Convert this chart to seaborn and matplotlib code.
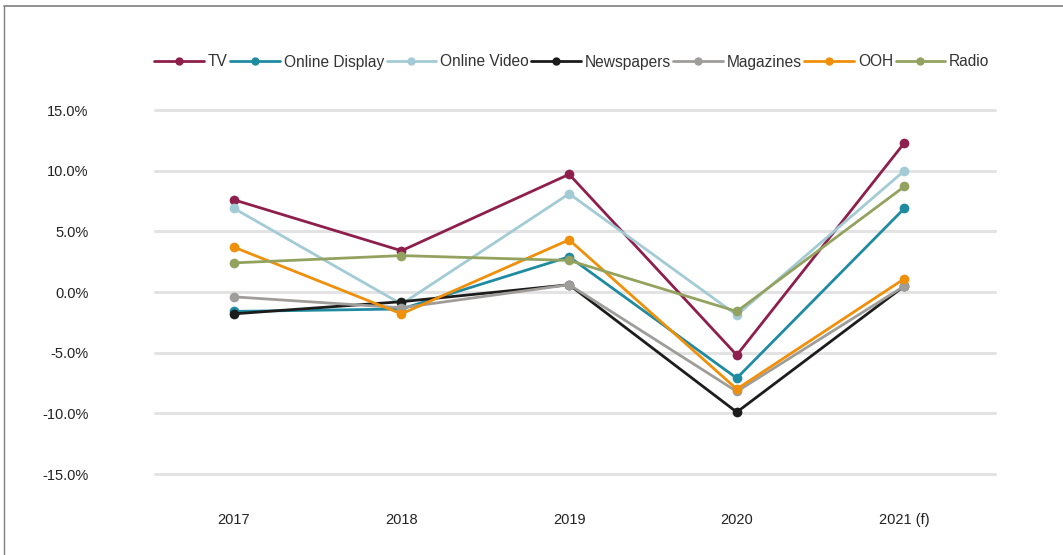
import matplotlib
matplotlib.use("Agg")
import matplotlib.pyplot as plt
import seaborn as sns
import pandas as pd
from matplotlib.lines import Line2D

years = ["2017", "2018", "2019", "2020", "2021 (f)"]
tv = [7.6, 3.4, 9.7, -5.2, 12.3]
online_display = [-1.6, -1.4, 2.9, -7.1, 6.9]
online_video = [6.9, -1.0, 8.1, -1.9, 10.0]
newspapers = [-1.8, -0.8, 0.6, -9.9, 0.5]
magazines = [-0.4, -1.3, 0.6, -8.2, 0.5]
ooh = [3.7, -1.8, 4.3, -8.0, 1.1]
radio = [2.4, 3.0, 2.6, -1.6, 8.7]

series_names = ["TV", "Online Display", "Online Video", "Newspapers", "Magazines", "OOH", "Radio"]
series_vals = [tv, online_display, online_video, newspapers, magazines, ooh, radio]
colors = ["#8e1f4c", "#1f8ba1", "#a3cbd6", "#1c1c1c", "#9f9d99", "#f0900a", "#93a35f"]

rows = []
for name, vals in zip(series_names, series_vals):
    for i, v in enumerate(vals):
        rows.append({"idx": i, "value": v, "series": name})
df = pd.DataFrame(rows)

sns.set_theme(style="white")
plt.rcParams["font.family"] = ["Liberation Sans", "DejaVu Sans"]

fig = plt.figure(figsize=(10.63, 5.55), dpi=100)
ax = fig.add_axes([155/1063, (555-474)/555, (995-155)/1063, (474-110)/555])

for y in [-15, -10, -5, 0, 5, 10, 15]:
    ax.axhline(y, color="#e3e3e3", lw=2.2, zorder=0, clip_on=False)

sns.lineplot(data=df, x="idx", y="value", hue="series", hue_order=series_names,
             palette=colors, marker="o", markersize=7, markeredgewidth=0,
             linewidth=2.0, ax=ax, legend=False, zorder=3)

ax.set_xlim(-0.47, 4.54)
ax.set_ylim(-15, 15)
ax.set_xticks(range(len(years)))
ax.set_xticklabels(years, fontsize=10.5, color="#222222")
ax.set_yticks([-15, -10, -5, 0, 5, 10, 15])
ax.set_yticklabels([f"{v:.1f}%" for v in [-15, -10, -5, 0, 5, 10, 15]], fontsize=10.5, color="#222222")
ax.tick_params(axis="y", length=0, pad=48)
ax.tick_params(axis="x", length=0, pad=28)
ax.set_xlabel("")
ax.set_ylabel("")
for s in ax.spines.values():
    s.set_visible(False)
ax.grid(False)

handles = [Line2D([0], [0], color=c, lw=2.0, marker="o", markersize=6, markeredgewidth=0)
           for c in colors]
fig.legend(handles, series_names, loc="center", bbox_to_anchor=(572/1063, 1 - 62/555),
           ncol=7, frameon=False, fontsize=11.2, handlelength=3.2, handletextpad=0.25,
           columnspacing=0.15, labelcolor="#333333")

# outer frame lines (top and left)
fig.add_artist(Line2D([4/1063, 1], [1 - 6/555, 1 - 6/555], color="#7f7f7f", lw=1.2,
                      transform=fig.transFigure))
fig.add_artist(Line2D([4/1063, 4/1063], [0, 1 - 6/555], color="#7f7f7f", lw=1.0,
                      transform=fig.transFigure))

fig.savefig("out.png", dpi=100)
